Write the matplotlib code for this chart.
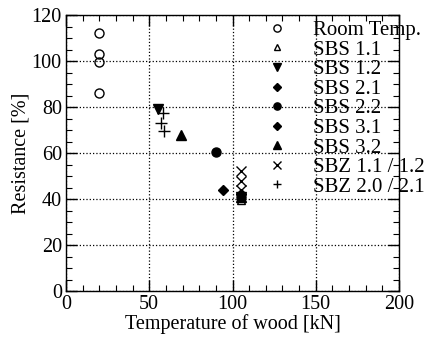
import matplotlib
matplotlib.use("Agg")
import matplotlib.pyplot as plt
from matplotlib.ticker import MultipleLocator

plt.rcParams['font.family'] = ['Liberation Serif', 'DejaVu Serif']
plt.rcParams['font.size'] = 14

labels = ["Room Temp.", "SBS 1.1", "SBS 1.2", "SBS 2.1", "SBS 2.2",
          "SBS 3.1", "SBS 3.2", "SBZ 1.1 / 1.2", "SBZ 2.0 / 2.1"]

room_x = [20, 20, 20, 20]
room_y = [112, 103, 99.5, 86]
sbs11_x = [105]
sbs11_y = [39.5]
sbs12_x = [55.5, 105]
sbs12_y = [79, 41]
sbs21_x = [105]
sbs21_y = [42]
sbs22_x = [90, 105]
sbs22_y = [60.5, 41]
sbs31_x = [94]
sbs31_y = [44]
sbs32_x = [69, 105]
sbs32_y = [68, 41]
sbz1_x = [105, 105, 105]
sbz1_y = [52, 48, 44]
sbz2_x = [58, 57, 59]
sbz2_y = [77.5, 73, 69.5]

series = [
    (room_x, room_y, dict(marker='o', mfc='none', mec='k', ms=6.5)),
    (sbs11_x, sbs11_y, dict(marker='^', mfc='none', mec='k', ms=6)),
    (sbs12_x, sbs12_y, dict(marker='v', mfc='k', mec='k', ms=6.5)),
    (sbs21_x, sbs21_y, dict(marker='D', mfc='k', mec='k', ms=5)),
    (sbs22_x, sbs22_y, dict(marker='o', mfc='k', mec='k', ms=6.5)),
    (sbs31_x, sbs31_y, dict(marker='D', mfc='k', mec='k', ms=5)),
    (sbs32_x, sbs32_y, dict(marker='^', mfc='k', mec='k', ms=6.5)),
    (sbz1_x, sbz1_y, dict(marker='x', mfc='k', mec='k', ms=7, mew=1.0)),
    (sbz2_x, sbz2_y, dict(marker='+', mfc='k', mec='k', ms=8, mew=1.0)),
]

fig = plt.figure(figsize=(4.34, 3.38), dpi=100)
ax = fig.add_axes([66/434, 1-291/338, 333/434, 276/338])

for (xs, ys, st), lab in zip(series, labels):
    ax.plot(xs, ys, ls='none', label=lab, **st)

ax.set_xlim(0, 200)
ax.set_ylim(0, 120)
ax.xaxis.set_major_locator(MultipleLocator(50))
ax.xaxis.set_minor_locator(MultipleLocator(10))
ax.yaxis.set_major_locator(MultipleLocator(20))
ax.yaxis.set_minor_locator(MultipleLocator(5))
ax.tick_params(which='both', direction='in', top=True, right=True, labelsize=14.5)
ax.tick_params(which='major', length=8, width=1)
ax.tick_params(axis='x', which='major', pad=3)
ax.tick_params(axis='y', which='major', pad=3)
ax.tick_params(which='minor', length=4, width=0.8)
ax.grid(True, which='major', ls=':', color='k', lw=0.9)
for s in ax.spines.values():
    s.set_linewidth(1)

ax.set_xlabel("Temperature of wood [kN]", fontsize=14.5, labelpad=0)
ax.set_ylabel("Resistance [%]", fontsize=14.5, labelpad=1)

leg = ax.legend(loc='upper left', bbox_to_anchor=(0.601, 0.98), frameon=False,
                handlelength=1.0, handletextpad=1.27, labelspacing=0.0,
                borderpad=0, borderaxespad=0, markerscale=0.8, fontsize=15)

fig.savefig("out.png", dpi=100)
